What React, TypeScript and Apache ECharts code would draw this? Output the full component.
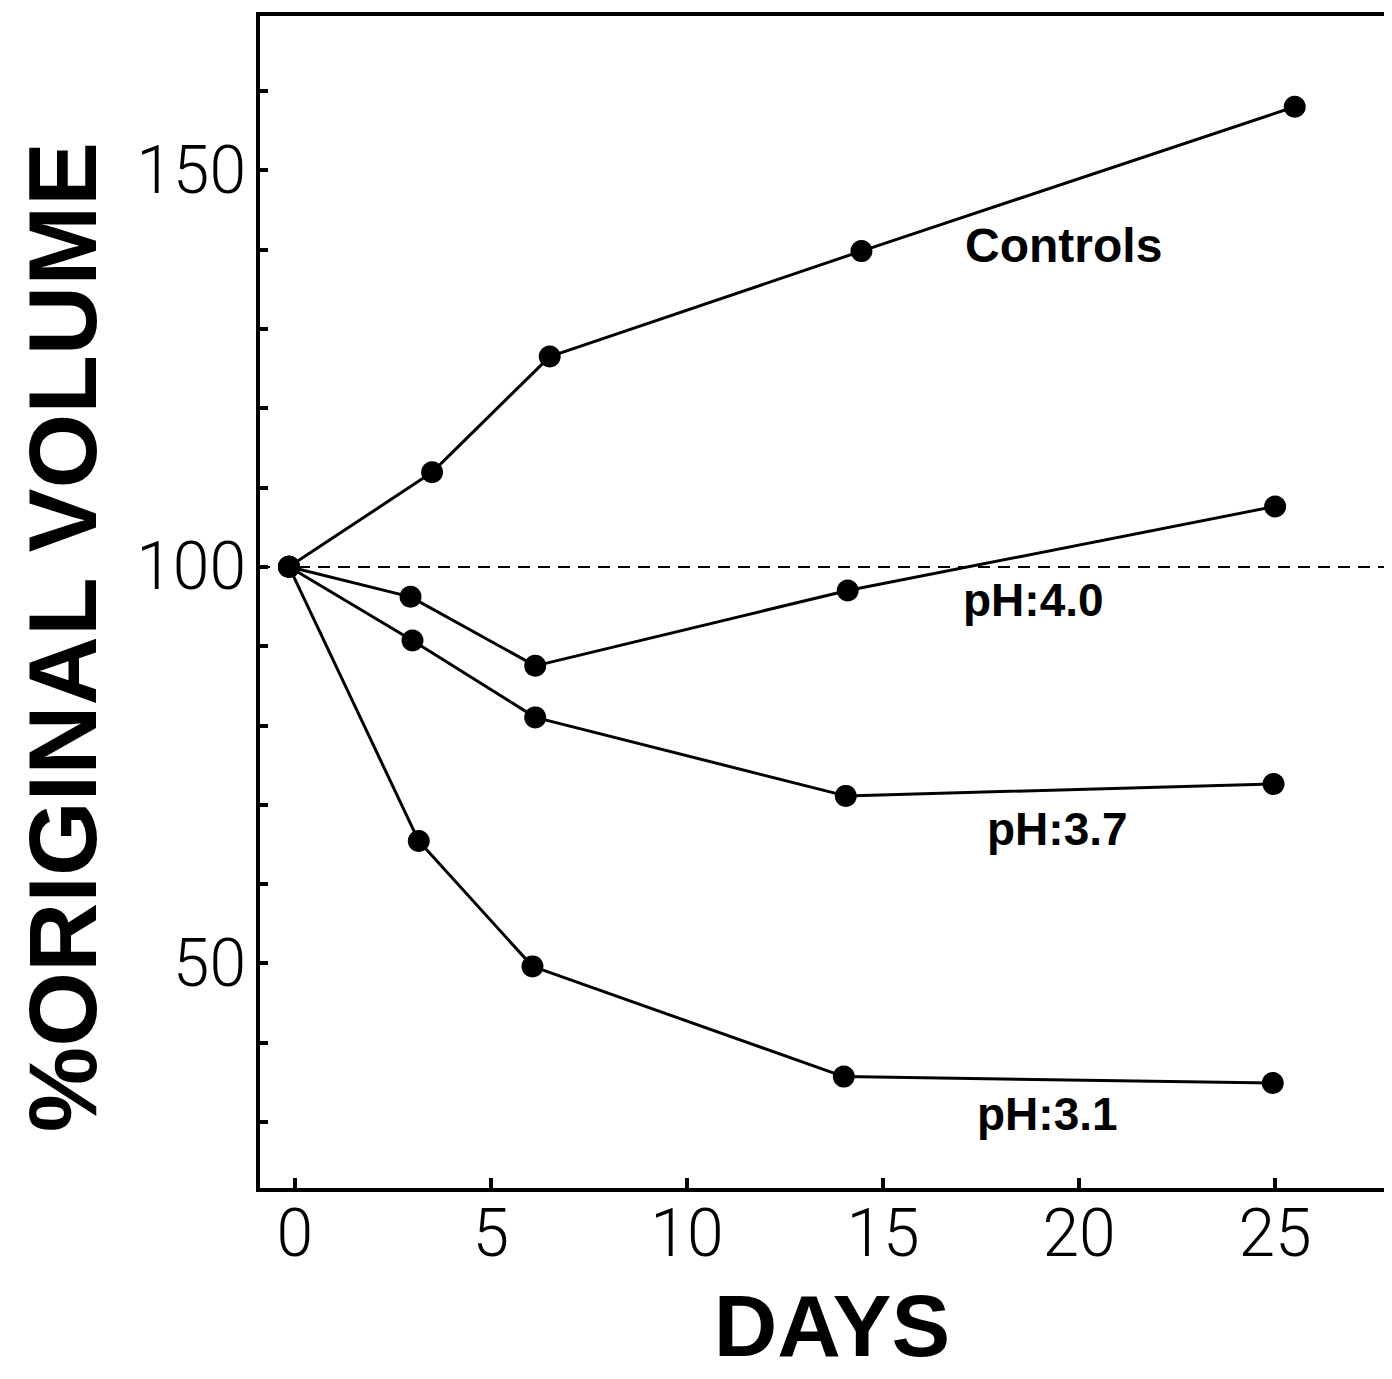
import React, { useEffect, useRef } from "react";
import * as echarts from "echarts";

const controlsDays = [-0.15, 3.5, 6.5, 14.45, 25.5];
const controlsVals = [100, 111.9, 126.5, 139.8, 158];
const ph40Days = [-0.15, 2.95, 6.13, 14.1, 25];
const ph40Vals = [100, 96.2, 87.5, 97, 107.6];
const ph37Days = [-0.15, 3.0, 6.13, 14.05, 24.96];
const ph37Vals = [100, 90.7, 81, 71.1, 72.6];
const ph31Days = [-0.15, 3.16, 6.06, 14.0, 24.94];
const ph31Vals = [100, 65.4, 49.6, 35.7, 34.9];

const xTicks = [0, 5, 10, 15, 20, 25];
const yTicks = [30, 40, 50, 60, 70, 80, 90, 100, 110, 120, 130, 140, 150, 160];
const yLabels = [50, 100, 150];
const baseline = 100;

const seriesNames = ["Controls", "pH:4.0", "pH:3.7", "pH:3.1"];

const zip = (xs: number[], ys: number[]) => xs.map((x, i) => [x, ys[i]]);

export default function App() {
  const ref = useRef<HTMLDivElement>(null);
  useEffect(() => {
    if (!ref.current) return;
    const chart = echarts.init(ref.current, null, { renderer: "svg" });
    const lineSeries = (name: string, data: number[][], extra: any = {}) => ({
      name,
      type: "line",
      data,
      symbol: "circle",
      symbolSize: 22,
      itemStyle: { color: "#000" },
      lineStyle: { color: "#000", width: 3 },
      z: 3,
      ...extra,
    });
    const labelStyle = (text: string, size: number, weight: any) => ({
      text,
      fontSize: size,
      fontWeight: weight,
      fontFamily: "Liberation Sans",
      fill: "#000",
      align: "left",
      verticalAlign: "middle",
    });
    chart.setOption({
      animation: false,
      backgroundColor: "#fff",
      grid: {
        left: 258,
        top: 14,
        right: 2,
        bottom: 189,
        show: true,
        borderColor: "#000",
        borderWidth: 4,
        backgroundColor: "transparent",
      },
      xAxis: {
        type: "value",
        min: -0.94,
        max: 27.93,
        splitLine: { show: false },
        axisLine: { show: true, onZero: false, lineStyle: { color: "#000", width: 4 } },
        axisTick: {
          show: true,
          inside: true,
          length: 12,
          customValues: xTicks,
          lineStyle: { color: "#000", width: 4 },
        },
        axisLabel: {
          customValues: xTicks,
          fontSize: 66,
          fontFamily: "Roboto",
          fontWeight: 300,
          color: "#000",
          margin: 10,
        },
      },
      yAxis: {
        type: "value",
        min: 21.4,
        max: 169.7,
        splitLine: { show: false },
        axisLine: { show: true, onZero: false, lineStyle: { color: "#000", width: 4 } },
        axisTick: {
          show: true,
          inside: true,
          length: 10,
          customValues: yTicks,
          lineStyle: { color: "#000", width: 4 },
        },
        axisLabel: {
          customValues: yLabels,
          fontSize: 66,
          fontFamily: "Roboto",
          fontWeight: 300,
          color: "#000",
          margin: 12,
        },
      },
      series: [
        lineSeries(seriesNames[0], zip(controlsDays, controlsVals), {
          markLine: {
            silent: true,
            symbol: "none",
            label: { show: false },
            lineStyle: { color: "#000", width: 2, type: [12, 8] },
            data: [{ yAxis: baseline }],
          },
        }),
        lineSeries(seriesNames[1], zip(ph40Days, ph40Vals)),
        lineSeries(seriesNames[2], zip(ph37Days, ph37Vals)),
        lineSeries(seriesNames[3], zip(ph31Days, ph31Vals)),
      ],
      graphic: [
        {
          type: "text",
          x: 62,
          y: 637,
          rotation: Math.PI / 2,
          style: {
            text: "%ORIGINAL VOLUME",
            fontSize: 96,
            fontWeight: "bold",
            fontFamily: "Liberation Sans",
            fill: "#000",
            align: "center",
            verticalAlign: "middle",
          },
        },
        {
          type: "text",
          x: 832,
          y: 1325,
          style: {
            text: "DAYS",
            fontSize: 88,
            fontWeight: "bold",
            fontFamily: "Liberation Sans",
            fill: "#000",
            align: "center",
            verticalAlign: "middle",
          },
        },
        { type: "text", x: 965, y: 245, style: labelStyle(seriesNames[0], 48, "bold") },
        { type: "text", x: 963, y: 600, style: labelStyle(seriesNames[1], 46, "bold") },
        { type: "text", x: 987, y: 829, style: labelStyle(seriesNames[2], 46, "bold") },
        { type: "text", x: 977, y: 1114, style: labelStyle(seriesNames[3], 46, "bold") },
      ],
    });
    return () => chart.dispose();
  }, []);
  return <div ref={ref} style={{ width: 1392, height: 1379, margin: -8 }} />;
}
